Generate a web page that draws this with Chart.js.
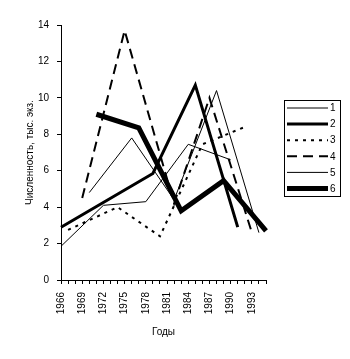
<!DOCTYPE html>
<html>
<head>
<meta charset="utf-8">
<script src="https://cdn.jsdelivr.net/npm/chart.js@4"></script>
<style>
html,body{margin:0;padding:0;background:#fff;}
#wrap{width:350px;height:359px;position:relative;}
</style>
</head>
<body>
<div id="wrap"><canvas id="c" width="350" height="359"></canvas></div>
<script>
// Categories (years on the x axis)
const categories = ['1966','1967','1968','1969','1970','1971','1972','1973','1974','1975','1976','1977','1978','1979','1980','1981','1982','1983','1984','1985','1986','1987','1988','1989','1990','1991','1992','1993','1994','1995'];
// Tick labels shown on the x axis
const xTickLabels = ['1966','1969','1972','1975','1978','1981','1984','1987','1990','1993'];
// Y tick values
const yTicks = [0, 2, 4, 6, 8, 10, 12, 14];

const seriesNames = ['1', '2', '3', '4', '5', '6'];

const years1 = [1966, 1972, 1978, 1984, 1990];
const values1 = [1.85, 4.1, 4.3, 7.45, 6.6];

const years2 = [1966, 1979, 1985, 1991];
const values2 = [2.9, 5.85, 10.7, 2.9];

const years3 = [1967, 1974, 1980, 1986, 1992];
const values3 = [2.75, 4.0, 2.4, 7.45, 8.4];

const years4 = [1969, 1975, 1982, 1987, 1993];
const values4 = [4.5, 13.7, 4.2, 10.0, 2.6];

const years5 = [1970, 1976, 1982, 1988, 1994];
const values5 = [4.8, 7.8, 4.4, 10.4, 2.6];

const years6 = [1971, 1977, 1983, 1989, 1995];
const values6 = [9.1, 8.35, 3.8, 5.45, 2.7];

function pts(years, values) {
  return years.map((y, i) => ({ x: String(y), y: values[i] }));
}

const FONT = '"Liberation Sans", Arial, sans-serif';
const styles = [
  { w: 1, dash: [] },
  { w: 3, dash: [] },
  { w: 2, dash: [3, 5] },
  { w: 2, dash: [10, 6] },
  { w: 1, dash: [] },
  { w: 5, dash: [] }
];
const allYears = [years1, years2, years3, years4, years5, years6];
const allValues = [values1, values2, values3, values4, values5, values6];

const datasets = seriesNames.map((name, i) => ({
  label: name,
  data: pts(allYears[i], allValues[i]),
  borderColor: '#000',
  borderWidth: styles[i].w,
  borderDash: styles[i].dash,
  pointRadius: 0,
  pointHoverRadius: 0,
  fill: false,
  tension: 0,
  order: 6 - i
}));

const legendPlugin = {
  id: 'boxLegend',
  afterDraw(chart) {
    const ctx = chart.ctx;
    const x0 = 284.5, y0 = 100.5, w = 56, h = 96;
    ctx.save();
    ctx.strokeStyle = '#000';
    ctx.lineWidth = 1;
    ctx.setLineDash([]);
    ctx.strokeRect(x0, y0, w, h);
    ctx.font = '10px ' + FONT;
    ctx.fillStyle = '#000';
    ctx.textBaseline = 'middle';
    ctx.textAlign = 'left';
    chart.data.datasets.forEach((ds, i) => {
      const yy = 108 + i * 16.1;
      ctx.save();
      ctx.beginPath();
      ctx.lineWidth = ds.borderWidth;
      ctx.setLineDash(ds.borderDash || []);
      ctx.moveTo(287, yy);
      ctx.lineTo(328, yy);
      ctx.stroke();
      ctx.restore();
      ctx.fillText(ds.label, 330, yy + 0.5);
    });
    ctx.restore();
  }
};

new Chart(document.getElementById('c'), {
  type: 'line',
  data: { labels: categories, datasets },
  options: {
    responsive: false,
    animation: false,
    events: [],
    layout: { padding: { left: 0, right: 84, top: 25, bottom: 0 } },
    plugins: { legend: { display: false }, tooltip: { enabled: false } },
    scales: {
      x: {
        type: 'category',
        offset: false,
        afterFit(s) { s.height = 79; },
        grid: { display: true, drawOnChartArea: false, drawTicks: true, tickLength: 4, color: '#000', lineWidth: 1 },
        border: { display: true, color: '#000', width: 1 },
        ticks: {
          autoSkip: false,
          maxRotation: 90,
          minRotation: 90,
          padding: 8,
          color: '#000',
          font: { family: FONT, size: 10 },
          callback(v) {
            const lab = this.getLabelForValue(v);
            return xTickLabels.includes(lab) ? lab : '';
          }
        },
        title: { display: true, text: 'Годы', color: '#000', font: { family: FONT, size: 10 }, padding: { top: 0, bottom: 21 } }
      },
      y: {
        min: 0,
        max: 14,
        afterFit(s) { s.width = 61; },
        afterBuildTicks(s) { s.ticks = yTicks.map(v => ({ value: v })); },
        grid: { display: true, drawOnChartArea: false, drawTicks: true, tickLength: 4, color: '#000', lineWidth: 1 },
        border: { display: true, color: '#000', width: 1 },
        ticks: { padding: 8, color: '#000', font: { family: FONT, size: 10 } },
        title: { display: true, text: 'Численность, тыс. экз.', color: '#000', font: { family: FONT, size: 10 }, padding: { top: 24, bottom: 0 } }
      }
    }
  },
  plugins: [legendPlugin]
});
</script>
</body>
</html>
